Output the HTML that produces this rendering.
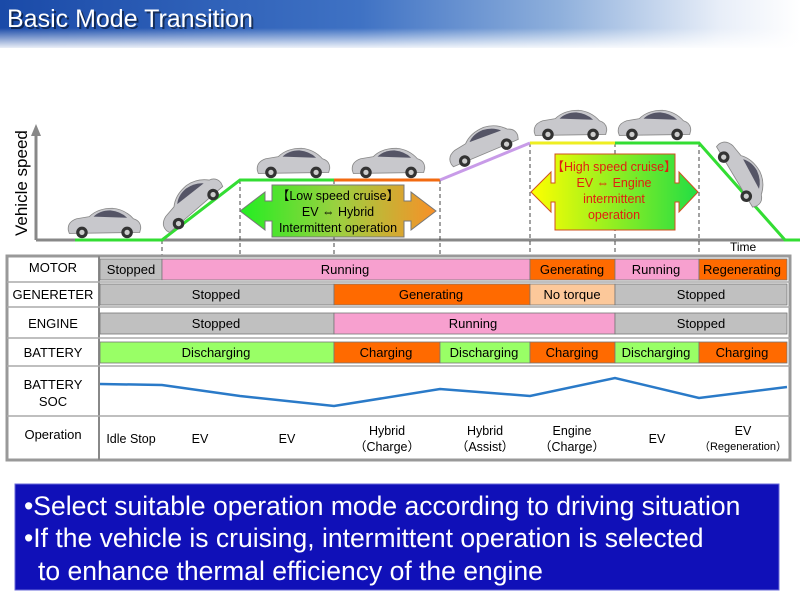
<!DOCTYPE html>
<html><head><meta charset="utf-8"><style>
body{margin:0;width:800px;height:595px;overflow:hidden;background:#fff;font-family:"Liberation Sans",sans-serif}
svg text{font-family:"Liberation Sans","Noto Sans CJK JP",sans-serif}
</style></head><body>
<svg width="800" height="595" viewBox="0 0 800 595" xmlns="http://www.w3.org/2000/svg">
<defs>
<linearGradient id="hdr" x1="0" y1="0" x2="1" y2="0">
<stop offset="0" stop-color="#1a4aa8"/><stop offset="0.45" stop-color="#3f72c4"/><stop offset="0.7" stop-color="#8fb0dc"/><stop offset="0.9" stop-color="#e8eef8"/><stop offset="1" stop-color="#fff"/></linearGradient>
<linearGradient id="hfade" x1="0" y1="0" x2="0" y2="1"><stop offset="0" stop-color="#fff" stop-opacity="0"/><stop offset="1" stop-color="#fff" stop-opacity="1"/></linearGradient>
<linearGradient id="g1" x1="0" y1="0" x2="1" y2="0"><stop offset="0" stop-color="#22ee22"/><stop offset="0.5" stop-color="#9cd040"/><stop offset="1" stop-color="#f89028"/></linearGradient>
<linearGradient id="g2" x1="0" y1="0" x2="1" y2="0"><stop offset="0" stop-color="#ffff00"/><stop offset="1" stop-color="#22dd44"/></linearGradient>
<g id="car"><path d="M-34 6 Q-35 -2 -26 -5 L-14 -7 Q-6 -15 8 -15 Q20 -14 28 -5 Q35 -3 35 4 L34 8 L-33 9 Z" fill="#c8c8cc" stroke="#888" stroke-width="0.8"/><path d="M-10 -7 Q-4 -13 6 -13 Q16 -12 22 -6 Z" fill="#556"/><circle cx="-21" cy="8" r="5.5" fill="#333"/><circle cx="-21" cy="8" r="2.5" fill="#ccc"/><circle cx="22" cy="8" r="5.5" fill="#333"/><circle cx="22" cy="8" r="2.5" fill="#ccc"/></g>
</defs>
<rect x="0" y="0" width="800" height="48" fill="url(#hdr)"/>
<rect x="0" y="28" width="800" height="22" fill="url(#hfade)"/>
<text x="9" y="29" font-size="25" fill="#000" opacity="0.5">Basic Mode Transition</text>
<text x="7" y="27" font-size="25" fill="#fff">Basic Mode Transition</text>

<line x1="36" y1="240" x2="800" y2="240" stroke="#888" stroke-width="3"/>
<line x1="36" y1="240" x2="36" y2="132" stroke="#888" stroke-width="3"/>
<polygon points="31,136 36,124 41,136" fill="#888"/>
<text transform="translate(27,236) rotate(-90)" font-size="17" fill="#000">Vehicle speed</text>
<text x="730" y="251" font-size="12">Time</text>
<g stroke="#444" stroke-width="1" stroke-dasharray="4,3">
<line x1="162" y1="240" x2="162" y2="460"/><line x1="240" y1="180" x2="240" y2="460"/><line x1="334" y1="180" x2="334" y2="460"/><line x1="440" y1="180" x2="440" y2="460"/><line x1="530" y1="143" x2="530" y2="460"/><line x1="615" y1="143" x2="615" y2="460"/><line x1="699" y1="143" x2="699" y2="460"/>
</g>
<polyline points="75,240 162,240 240,180 334,180" fill="none" stroke="#33dd33" stroke-width="3"/>
<line x1="334" y1="180" x2="440" y2="180" stroke="#f26a10" stroke-width="3"/>
<line x1="440" y1="180" x2="530" y2="143" stroke="#c89be8" stroke-width="3"/>
<line x1="530" y1="143" x2="615" y2="143" stroke="#eeee22" stroke-width="3"/>
<polyline points="615,143 699,143 785,240 800,240" fill="none" stroke="#33dd33" stroke-width="3"/>
<use href="#car" transform="translate(104,224) scale(1.05)"/>
<use href="#car" transform="translate(190,203) rotate(-40) scale(1.05)"/>
<use href="#car" transform="translate(293,164) scale(1.05)"/>
<use href="#car" transform="translate(388,164) scale(1.05)"/>
<use href="#car" transform="translate(482,145) rotate(-22) scale(1.05)"/>
<use href="#car" transform="translate(570,126) scale(1.05)"/>
<use href="#car" transform="translate(654,126) scale(1.05)"/>
<use href="#car" transform="translate(742,172) rotate(60) scale(1.05)"/>
<polygon points="240,211 265,192 265,201 272,201 272,185 404,185 404,201 411,201 411,192 436,211 411,230 411,221 404,221 404,237 272,237 272,221 265,221 265,230" fill="url(#g1)" stroke="#777" stroke-width="1"/>
<text x="338" y="200" font-size="12.5" text-anchor="middle">【Low speed cruise】</text>
<text x="338" y="216" font-size="12.5" text-anchor="middle">EV ⇔ Hybrid</text>
<text x="338" y="232" font-size="12.5" text-anchor="middle">Intermittent operation</text>
<polygon points="531,192 551,172 551,183 555,183 555,154 675,154 675,183 679,183 679,172 698,192 679,212 679,202 675,202 675,230 555,230 555,202 551,202 551,212" fill="url(#g2)" stroke="#d05020" stroke-width="1"/>
<g fill="#e02010" font-size="12.5" text-anchor="middle">
<text x="614" y="171">【High speed cruise】</text><text x="614" y="187">EV ⇔ Engine</text><text x="614" y="203">intermittent</text><text x="614" y="219">operation</text></g>

<rect x="7" y="256" width="783" height="204" fill="#fff" stroke="#999" stroke-width="3"/>
<line x1="99" y1="256" x2="99" y2="460" stroke="#888" stroke-width="2"/>
<g stroke="#aaa" stroke-width="1.5">
<line x1="7" y1="282" x2="790" y2="282"/><line x1="7" y1="307" x2="790" y2="307"/><line x1="7" y1="338" x2="790" y2="338"/><line x1="7" y1="366" x2="790" y2="366"/><line x1="7" y1="416" x2="790" y2="416"/></g>
<g font-size="13" text-anchor="middle" fill="#000">
<text x="53" y="272">MOTOR</text><text x="53" y="299">GENERETER</text><text x="53" y="328">ENGINE</text><text x="53" y="357">BATTERY</text><text x="53" y="389">BATTERY</text><text x="53" y="406">SOC</text><text x="53" y="439">Operation</text></g>
<g stroke="#777" stroke-width="0.8">
<rect x="100" y="259" width="62" height="21" fill="#c0c0c0"/><rect x="162" y="259" width="368" height="21" fill="#f7a0cf"/><rect x="530" y="259" width="85" height="21" fill="#ff6a00"/><rect x="615" y="259" width="84" height="21" fill="#f7a0cf"/><rect x="699" y="259" width="88" height="21" fill="#ff6a00"/>
<rect x="100" y="284" width="234" height="21" fill="#c0c0c0"/><rect x="334" y="284" width="196" height="21" fill="#ff6a00"/><rect x="530" y="284" width="85" height="21" fill="#fcc89a"/><rect x="615" y="284" width="172" height="21" fill="#c0c0c0"/>
<rect x="100" y="313" width="234" height="21" fill="#c0c0c0"/><rect x="334" y="313" width="281" height="21" fill="#f7a0cf"/><rect x="615" y="313" width="172" height="21" fill="#c0c0c0"/>
<rect x="100" y="342" width="234" height="21" fill="#99ff66"/><rect x="334" y="342" width="106" height="21" fill="#ff6a00"/><rect x="440" y="342" width="90" height="21" fill="#99ff66"/><rect x="530" y="342" width="85" height="21" fill="#ff6a00"/><rect x="615" y="342" width="84" height="21" fill="#99ff66"/><rect x="699" y="342" width="88" height="21" fill="#ff6a00"/>
</g>
<g font-size="13" text-anchor="middle" fill="#000">
<text x="131" y="274">Stopped</text><text x="345" y="274">Running</text><text x="572" y="274">Generating</text><text x="656" y="274">Running</text><text x="742" y="274">Regenerating</text>
<text x="216" y="299">Stopped</text><text x="431" y="299">Generating</text><text x="572" y="299">No torque</text><text x="701" y="299">Stopped</text>
<text x="216" y="328">Stopped</text><text x="473" y="328">Running</text><text x="701" y="328">Stopped</text>
<text x="216" y="357">Discharging</text><text x="386" y="357">Charging</text><text x="484" y="357">Discharging</text><text x="572" y="357">Charging</text><text x="656" y="357">Discharging</text><text x="742" y="357">Charging</text>
</g>
<polyline points="100,384 162,385 240,396 334,406 440,389 530,396 615,378 699,398 787,387" fill="none" stroke="#2a7ac8" stroke-width="2.5"/>
<g font-size="12.5" text-anchor="middle" fill="#000">
<text x="131" y="443">Idle Stop</text><text x="200" y="443">EV</text><text x="287" y="443">EV</text>
<text x="387" y="435">Hybrid</text><text x="387" y="451">（Charge）</text>
<text x="485" y="435">Hybrid</text><text x="485" y="451">（Assist）</text>
<text x="572" y="435">Engine</text><text x="572" y="451">（Charge）</text>
<text x="657" y="443">EV</text>
<text x="743" y="435">EV</text><text x="743" y="450" font-size="11">（Regeneration）</text>
</g>

<rect x="15" y="484" width="764" height="106" fill="#1010b8" stroke="#6a6ad8" stroke-width="1"/>
<g fill="#fff" font-size="26.5">
<text x="24" y="515">•Select suitable operation mode according to driving situation</text>
<text x="24" y="547">•If the vehicle is cruising, intermittent operation is selected</text>
<text x="38" y="580">to enhance thermal efficiency of the engine</text></g>
</svg>
</body></html>
